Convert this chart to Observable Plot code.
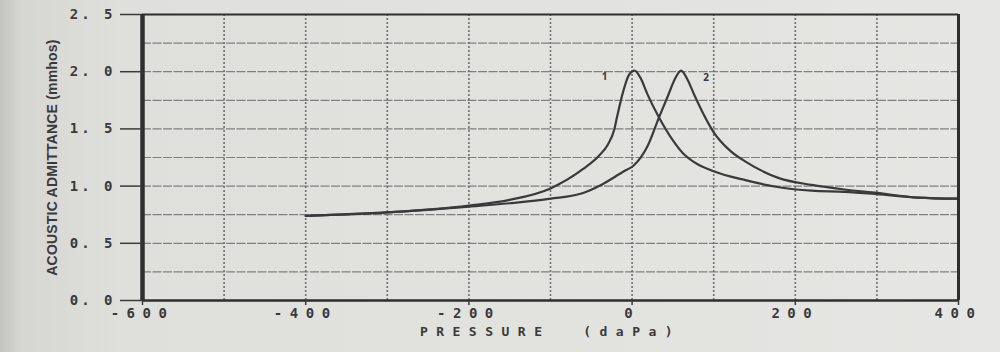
<!DOCTYPE html>
<html><head><meta charset="utf-8">
<script src="https://cdn.jsdelivr.net/npm/d3@7"></script>
<script src="https://cdn.jsdelivr.net/npm/@observablehq/plot@0.6"></script>
<style>
html,body{margin:0;padding:0;width:1000px;height:352px;overflow:hidden;
background:linear-gradient(to right,#c4c4c0 0px,#d6d6d3 22px,#dfdfdc 120px,#e3e3e0 70%,#e6e6e4 100%);}
#chart svg{display:block}
[aria-label="y-axis tick label"] text{letter-spacing:3px}
[aria-label="x-axis tick label"] text{letter-spacing:7.5px}
</style></head><body><div id="chart"></div>
<script>
// Curve 1 (tympanogram, peak near 0 daPa)
const pressure1 = [-400,-300,-200,-150,-100,-60,-40,-30,-22,-18,-10,-4,3,10,19,33,50,62,76,100,140,180,220,260,300,350,400];
const admit1    = [0.74,0.77,0.83,0.88,0.98,1.15,1.27,1.36,1.49,1.62,1.85,1.97,2.01,1.95,1.80,1.60,1.40,1.29,1.21,1.13,1.05,0.99,0.96,0.95,0.93,0.90,0.89];
// Curve 2 (peak near +60 daPa)
const pressure2 = [-400,-300,-200,-150,-100,-60,-38,-10,2,19,33,44,52,60,68,76,86,100,120,140,180,220,260,300,350,400];
const admit2    = [0.74,0.77,0.82,0.85,0.89,0.94,1.01,1.13,1.18,1.35,1.60,1.79,1.93,2.01,1.93,1.80,1.65,1.47,1.31,1.21,1.07,1.01,0.97,0.94,0.90,0.89];
const curveNames = ["1","2"];

const xTickValues = [-600,-400,-200,0,200,400];
const xTickLabels = ["-600","-400","-200","0","200","400"];
const yTickValues = [0,0.5,1.0,1.5,2.0,2.5];
const yTickLabels = ["0. 0","0. 5","1. 0","1. 5","2. 0","2. 5"];
const xGridValues = [-500,-400,-300,-200,-100,0,100,200,300];
const yGridValues = [0.25,0.5,0.75,1.0,1.25,1.5,1.75,2.0,2.25];
const xTitle = "PRESSURE  (daPa)";
const yTitle = "ACOUSTIC ADMITTANCE (mmhos)";

const s1 = pressure1.map((p,i)=>({p, a:admit1[i]}));
const s2 = pressure2.map((p,i)=>({p, a:admit2[i]}));
const peak = s => s.reduce((m,d)=>d.a>m.a?d:m);
const peaks = [peak(s1), peak(s2)].map((d,i)=>({...d, name:curveNames[i]}));
const xMap = new Map(xTickValues.map((v,i)=>[v,xTickLabels[i]]));
const yMap = new Map(yTickValues.map((v,i)=>[v,yTickLabels[i]]));

const ink = "#3a3a3a";
const chart = Plot.plot({
  width:1000, height:352,
  marginLeft:142, marginRight:42, marginTop:14, marginBottom:52,
  style:{background:"transparent", color:ink},
  x:{domain:[-600,400]},
  y:{domain:[0,2.5]},
  marks:[
    Plot.ruleY(yGridValues, {stroke:"#808080", strokeWidth:1.2, strokeDasharray:"9,1.5"}),
    Plot.ruleX(xGridValues, {stroke:"#707070", strokeWidth:1.6, strokeDasharray:"2,2"}),
    Plot.line(s1, {x:"p", y:"a", curve:"monotone-x", stroke:ink, strokeWidth:2.2}),
    Plot.line(s2, {x:"p", y:"a", curve:"monotone-x", stroke:ink, strokeWidth:2.2}),
    Plot.text(peaks, {x:"p", y:"a", text:"name", fontSize:10, fontWeight:"bold", fill:ink,
      filter:(d,i)=>i===0, dx:-30, dy:6}),
    Plot.text(peaks, {x:"p", y:"a", text:"name", fontSize:10, fontWeight:"bold", fill:ink,
      filter:(d,i)=>i===1, dx:25, dy:7}),
    Plot.ruleX([-600], {stroke:"#2e2e2e", strokeWidth:4.5}),
    Plot.ruleX([400], {stroke:"#2e2e2e", strokeWidth:3}),
    Plot.ruleY([2.5], {stroke:"#2e2e2e", strokeWidth:2.2}),
    Plot.ruleY([0], {stroke:"#2e2e2e", strokeWidth:2.5}),
    Plot.axisY({ticks:yTickValues, tickFormat:d=>yMap.get(d), tickSize:22, tickPadding:5,
      fontFamily:"DejaVu Sans Mono", fontSize:14, fontWeight:"bold", strokeWidth:1.5, label:null}),
    Plot.axisX({ticks:xTickValues, tickFormat:d=>xMap.get(d), tickSize:5, tickPadding:3,
      fontFamily:"DejaVu Sans Mono", fontSize:14, fontWeight:"bold", strokeWidth:1.5, label:null}),
    Plot.text([xTitle], {frameAnchor:"bottom", text:d=>d, dy:35, fontFamily:"DejaVu Sans Mono",
      fontSize:13, fontWeight:"bold", fill:ink}),
    Plot.text([yTitle], {frameAnchor:"left", text:d=>d, rotate:-90, dx:-90, textAnchor:"middle",
      fontFamily:"Liberation Sans", fontSize:14, fontWeight:"bold", fill:ink})
  ]
});
d3.select(chart).selectAll("text").filter(function(){return this.textContent===xTitle;})
  .style("letter-spacing","8.5px");
d3.select(chart).selectAll("text").filter(function(){return this.textContent===yTitle;})
  .style("letter-spacing","0.2px");
document.getElementById("chart").appendChild(chart);
</script></body></html>
